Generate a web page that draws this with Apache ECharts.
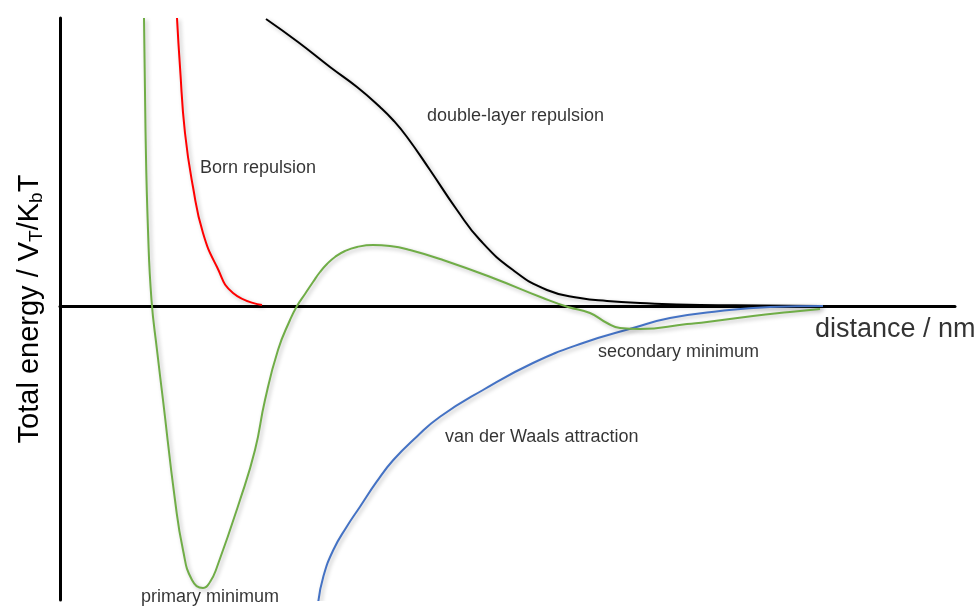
<!DOCTYPE html>
<html>
<head>
<meta charset="utf-8">
<title>DLVO interaction energy</title>
<script src="https://cdn.jsdelivr.net/npm/echarts@6/dist/echarts.min.js"></script>
<style>
  html, body { margin: 0; padding: 0; background: #fff; }
  #chart { width: 978px; height: 606px; }
</style>
</head>
<body>
<div id="chart"></div>
<script>
// Curves as [distance, energy] pairs (arbitrary units)
const totalEnergy = [
  [8.4, 28.8], [8.55, 17.6], [8.8, 7.6], [9.15, 0.6], [9.7, -4.4], [10.3, -9.4],
  [11.5, -19.4], [12.3, -24.4], [13.2, -27.4], [14.3, -28.2], [15.0, -27.6], [15.7, -26.1],
  [18.0, -19.4], [19.5, -14.4], [20.5, -9.4], [21.8, -4.4], [23.0, -1.4], [23.7, 0],
  [24.5, 1.2], [25.3, 2.4], [26.0, 3.4], [26.7, 4.2], [27.5, 4.9], [28.5, 5.5],
  [29.7, 5.9], [31.3, 6.1], [33.0, 6.0], [35.0, 5.6], [38.3, 4.6], [43.3, 2.8],
  [48.3, 0.8], [50.8, -0.1], [53.0, -0.7], [54.7, -1.7], [56.0, -2.2], [58.0, -2.3],
  [62.7, -1.8], [64.7, -1.6], [69.3, -1.0], [73.0, -0.6], [76.0, -0.3]
];
const vdwAttraction = [
  [25.83, -29.57], [26.33, -27.07], [27.33, -24.4], [28.67, -22.07], [30.0, -20.07],
  [31.67, -17.57], [33.33, -15.4], [35.67, -13.07], [38.0, -11.07], [42.3, -8.4],
  [47.3, -5.7], [52.3, -3.7], [57.3, -2.2], [61.0, -1.2], [66.0, -0.5],
  [71.0, -0.1], [76.3, 0]
];
const doubleLayer = [
  [20.6, 28.7], [23.8, 26.4], [27.0, 23.9], [29.7, 21.9], [32.0, 19.9], [33.3, 18.6],
  [34.7, 16.9], [37.0, 13.6], [39.7, 9.6], [42.0, 6.6], [45.3, 3.6], [48.7, 1.6],
  [52.0, 0.8], [54.7, 0.5], [58.0, 0.3], [64.0, 0.1], [70.0, 0.05], [76.0, 0]
];
const bornRepulsion = [
  [11.7, 28.8], [12.0, 23.9], [12.5, 17.3], [13.3, 11.9], [14.3, 7.3], [15.7, 3.9],
  [17.3, 1.3], [20.2, 0.1]
];
// Text annotations: [distance, energy, text]
const annotations = [
  [14.0, 13.8, 'Born repulsion'],
  [36.7, 19.0, 'double-layer repulsion'],
  [53.8, -4.6, 'secondary minimum'],
  [38.5, -13.1, 'van der Waals attraction'],
  [8.1, -29.1, 'primary minimum']
];
const xAxisTitle = 'distance / nm';
const xTitlePos = [75.5, -2.4];

const FONT = 'Arial, "Liberation Sans", Helvetica, sans-serif';
const shadow = { shadowColor: 'rgba(0,0,0,0.28)', shadowBlur: 4, shadowOffsetX: 2, shadowOffsetY: 2 };

function curve(name, data, color) {
  return {
    name, type: 'line', data, smooth: 0.5, symbol: 'none', z: 2,
    lineStyle: Object.assign({ color, width: 2 }, shadow)
  };
}

const chart = echarts.init(document.getElementById('chart'));
chart.setOption({
  animation: false,
  backgroundColor: '#fff',
  grid: { left: 60, right: 23, top: 18, bottom: 6, containLabel: false, outerBoundsMode: 'none' },
  xAxis: {
    type: 'value', min: 0, max: 89.5,
    axisLine: { onZero: true, lineStyle: { color: '#000', width: 3 } },
    axisTick: { show: false }, axisLabel: { show: false }, splitLine: { show: false }
  },
  yAxis: {
    type: 'value', min: -29.4, max: 28.8,
    name: 'Total energy / V{sub|T}/K{sub|b}T',
    nameLocation: 'middle', nameGap: 14, nameRotate: 90,
    nameTextStyle: {
      fontFamily: FONT, fontSize: 29, color: '#000',
      rich: {
        sub: { fontFamily: FONT, fontSize: 19, color: '#000', padding: [14, 0, 0, 0] }
      }
    },
    axisLine: { lineStyle: { color: '#000', width: 3 } },
    axisTick: { show: false }, axisLabel: { show: false }, splitLine: { show: false }
  },
  series: [
    curve('Born repulsion', bornRepulsion, '#ff0000'),
    curve('double-layer repulsion', doubleLayer, '#000000'),
    curve('van der Waals attraction', vdwAttraction, '#4472c4'),
    curve('total', totalEnergy, '#70ad47'),
    {
      type: 'scatter', symbolSize: 0, silent: true, z: 5,
      data: annotations.map(a => ({ value: [a[0], a[1]], name: a[2] })),
      label: {
        show: true, position: 'right', distance: 0, formatter: p => p.name,
        fontFamily: FONT, fontSize: 18, color: '#000'
      }
    },
    {
      type: 'scatter', symbolSize: 0, silent: true, z: 5,
      data: [{ value: xTitlePos, name: xAxisTitle }],
      label: {
        show: true, position: 'right', distance: 0, formatter: p => p.name,
        fontFamily: FONT, fontSize: 27, color: '#000'
      }
    }
  ]
});
</script>
</body>
</html>
